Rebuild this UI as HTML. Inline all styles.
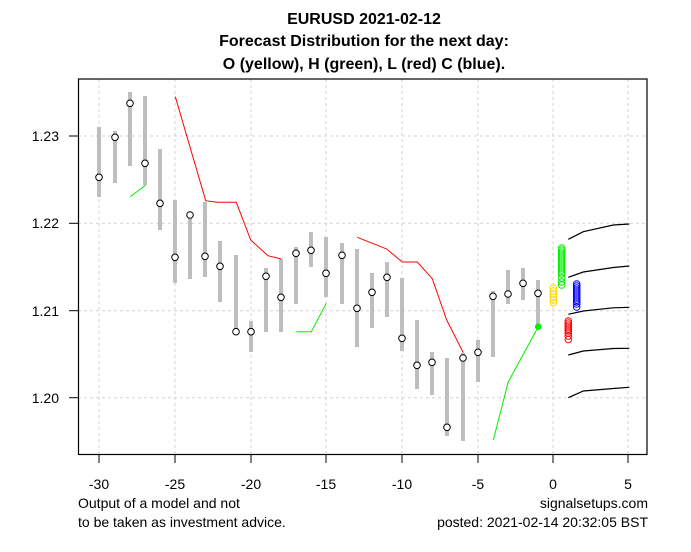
<!DOCTYPE html>
<html><head><meta charset="utf-8"><style>
html,body{margin:0;padding:0;background:#fff;}
svg{display:block;font-family:"Liberation Sans",Arial,sans-serif;}
</style></head><body>
<svg width="691" height="552" viewBox="0 0 691 552" xmlns="http://www.w3.org/2000/svg">
<g font-weight="bold" font-size="16" text-anchor="middle" fill="#000">
<text x="364" y="24">EURUSD 2021-02-12</text>
<text x="364" y="46">Forecast Distribution for the next day:</text>
<text x="364" y="69">O (yellow), H (green), L (red) C (blue).</text>
</g>
<g stroke="#d3d3d3" stroke-width="1" stroke-dasharray="3,3">
<line x1="99" y1="79" x2="99" y2="454"/><line x1="175" y1="79" x2="175" y2="454"/>
<line x1="251" y1="79" x2="251" y2="454"/><line x1="326" y1="79" x2="326" y2="454"/>
<line x1="402" y1="79" x2="402" y2="454"/><line x1="478" y1="79" x2="478" y2="454"/>
<line x1="553" y1="79" x2="553" y2="454"/><line x1="628" y1="79" x2="628" y2="454"/>
<line x1="78" y1="136" x2="647" y2="136"/><line x1="78" y1="223.3" x2="647" y2="223.3"/>
<line x1="78" y1="310.7" x2="647" y2="310.7"/><line x1="78" y1="397.7" x2="647" y2="397.7"/>
</g>
<g stroke="#bebebe" stroke-width="4">
<line x1="99" y1="127" x2="99" y2="197"/><line x1="115" y1="131" x2="115" y2="183"/>
<line x1="130" y1="92" x2="130" y2="166"/><line x1="145" y1="96" x2="145" y2="185"/>
<line x1="160" y1="149" x2="160" y2="230"/><line x1="175" y1="200" x2="175" y2="283"/>
<line x1="190" y1="215" x2="190" y2="279"/><line x1="205" y1="202" x2="205" y2="277"/>
<line x1="220" y1="241" x2="220" y2="302"/><line x1="236" y1="255" x2="236" y2="332"/>
<line x1="251" y1="321" x2="251" y2="352"/><line x1="266" y1="268" x2="266" y2="332"/>
<line x1="281" y1="259" x2="281" y2="332"/><line x1="296" y1="247" x2="296" y2="304"/>
<line x1="311" y1="232" x2="311" y2="267"/><line x1="326" y1="237" x2="326" y2="297"/>
<line x1="342" y1="243" x2="342" y2="304"/><line x1="357" y1="249" x2="357" y2="347"/>
<line x1="372" y1="273" x2="372" y2="328"/><line x1="387" y1="262" x2="387" y2="317"/>
<line x1="402" y1="278" x2="402" y2="351"/><line x1="417" y1="320" x2="417" y2="389"/>
<line x1="432" y1="352" x2="432" y2="395"/><line x1="447" y1="358" x2="447" y2="436"/>
<line x1="463" y1="353" x2="463" y2="441"/><line x1="478" y1="340" x2="478" y2="382"/>
<line x1="493" y1="291" x2="493" y2="357"/><line x1="508" y1="270" x2="508" y2="304"/>
<line x1="523" y1="268" x2="523" y2="300"/><line x1="538" y1="280" x2="538" y2="327"/>
</g>
<g fill="#fff" stroke="#000" stroke-width="1">
<circle cx="99" cy="177.3" r="3.3"/><circle cx="115" cy="137.3" r="3.3"/><circle cx="130" cy="103.3" r="3.3"/>
<circle cx="145" cy="163.3" r="3.3"/><circle cx="160" cy="203.3" r="3.3"/><circle cx="175" cy="257.3" r="3.3"/>
<circle cx="190" cy="215" r="3.3"/><circle cx="205" cy="256.3" r="3.3"/><circle cx="220" cy="266.3" r="3.3"/>
<circle cx="236" cy="331.7" r="3.3"/><circle cx="251" cy="331.7" r="3.3"/><circle cx="266" cy="276.3" r="3.3"/>
<circle cx="281" cy="297.3" r="3.3"/><circle cx="296" cy="253.3" r="3.3"/><circle cx="311" cy="250.3" r="3.3"/>
<circle cx="326" cy="273.3" r="3.3"/><circle cx="342" cy="255.3" r="3.3"/><circle cx="357" cy="308.3" r="3.3"/>
<circle cx="372" cy="292.3" r="3.3"/><circle cx="387" cy="277.3" r="3.3"/><circle cx="402" cy="338.3" r="3.3"/>
<circle cx="417" cy="365.3" r="3.3"/><circle cx="432" cy="362.3" r="3.3"/><circle cx="447" cy="427.3" r="3.3"/>
<circle cx="463" cy="358" r="3.3"/><circle cx="478" cy="352.3" r="3.3"/><circle cx="493" cy="296.3" r="3.3"/>
<circle cx="508" cy="294" r="3.3"/><circle cx="523" cy="283.3" r="3.3"/><circle cx="538" cy="293.3" r="3.3"/>
</g>
<g fill="none" stroke="#ff0000" stroke-width="1">
<polyline points="175.3,96.7 205.7,200.7 217.3,202.3 236.3,202.3 250.7,240 268,255.7 281.3,259"/>
<polyline points="357.3,237.3 386.7,249 402.3,262 417.3,262 432.3,278.7 446.7,320 463.3,352.7"/>
</g>
<g fill="none" stroke="#00ee00" stroke-width="1">
<polyline points="130.3,196.7 145.7,185"/>
<polyline points="296.3,331.7 311.3,331.7 326.3,303.3"/>
<polyline points="493.3,440 508.3,381.7 538.3,326.7"/>
</g>
<circle cx="538.3" cy="326.7" r="3.3" fill="#00ee00"/>
<g fill="none" stroke="#000" stroke-width="1.2">
<polyline points="568.3,239.3 583.3,231.7 613.3,225 629.3,224"/>
<polyline points="568.3,277.3 583.3,272 613.3,267.5 629.3,266"/>
<polyline points="568.3,314.3 583.3,311 613.3,307.8 629.3,307.3"/>
<polyline points="568.3,355 583.3,351 613.3,348.5 629.3,348.3"/>
<polyline points="568.3,397.7 583.3,391 613.3,388.5 629.3,387.3"/>
</g>
<g fill="none" stroke-width="1">
<g stroke="#ffd700">
<circle cx="553.3" cy="288" r="3.3"/><circle cx="553.3" cy="291" r="3.3"/><circle cx="553.3" cy="294" r="3.3"/><circle cx="553.3" cy="297" r="3.3"/><circle cx="553.3" cy="300" r="3.3"/><circle cx="553.3" cy="302.7" r="3.3"/>
</g>
<g stroke="#00ee00">
<circle cx="561.7" cy="248" r="3.3"/><circle cx="561.7" cy="250" r="3.3"/><circle cx="561.7" cy="252" r="3.3"/><circle cx="561.7" cy="254" r="3.3"/><circle cx="561.7" cy="256" r="3.3"/><circle cx="561.7" cy="258" r="3.3"/><circle cx="561.7" cy="260" r="3.3"/><circle cx="561.7" cy="262" r="3.3"/><circle cx="561.7" cy="264" r="3.3"/><circle cx="561.7" cy="266" r="3.3"/><circle cx="561.7" cy="268" r="3.3"/><circle cx="561.7" cy="270" r="3.3"/><circle cx="561.7" cy="272" r="3.3"/><circle cx="561.7" cy="274" r="3.3"/><circle cx="561.7" cy="278" r="3.3"/><circle cx="561.7" cy="282" r="3.3"/><circle cx="561.7" cy="285" r="3.3"/>
</g>
<g stroke="#0000ff">
<circle cx="576.7" cy="284" r="3.3"/><circle cx="576.7" cy="286" r="3.3"/><circle cx="576.7" cy="288" r="3.3"/><circle cx="576.7" cy="290" r="3.3"/><circle cx="576.7" cy="292" r="3.3"/><circle cx="576.7" cy="294" r="3.3"/><circle cx="576.7" cy="296" r="3.3"/><circle cx="576.7" cy="298" r="3.3"/><circle cx="576.7" cy="300" r="3.3"/><circle cx="576.7" cy="302" r="3.3"/><circle cx="576.7" cy="304" r="3.3"/><circle cx="576.7" cy="307" r="3.3"/>
</g>
<g stroke="#ff0000">
<circle cx="568.3" cy="321" r="3.3"/><circle cx="568.3" cy="323" r="3.3"/><circle cx="568.3" cy="325" r="3.3"/><circle cx="568.3" cy="327" r="3.3"/><circle cx="568.3" cy="329" r="3.3"/><circle cx="568.3" cy="331" r="3.3"/><circle cx="568.3" cy="333" r="3.3"/><circle cx="568.3" cy="336" r="3.3"/><circle cx="568.3" cy="339.5" r="3.3"/>
</g>
</g>
<rect x="78.5" y="79" width="568.5" height="375.5" fill="none" stroke="#000" stroke-width="1.2"/>
<g stroke="#000" stroke-width="1">
<line x1="99" y1="454" x2="99" y2="463"/><line x1="175" y1="454" x2="175" y2="463"/>
<line x1="251" y1="454" x2="251" y2="463"/><line x1="326" y1="454" x2="326" y2="463"/>
<line x1="402" y1="454" x2="402" y2="463"/><line x1="478" y1="454" x2="478" y2="463"/>
<line x1="553" y1="454" x2="553" y2="463"/><line x1="628" y1="454" x2="628" y2="463"/>
<line x1="69" y1="136" x2="78" y2="136"/><line x1="69" y1="223.3" x2="78" y2="223.3"/>
<line x1="69" y1="310.7" x2="78" y2="310.7"/><line x1="69" y1="397.7" x2="78" y2="397.7"/>
</g>
<g font-size="14" fill="#000" text-anchor="middle">
<text x="99" y="489">-30</text><text x="175" y="489">-25</text><text x="251" y="489">-20</text>
<text x="326" y="489">-15</text><text x="402" y="489">-10</text><text x="478" y="489">-5</text>
<text x="553" y="489">0</text><text x="628" y="489">5</text>
</g>
<g font-size="14" fill="#000" text-anchor="end">
<text x="59" y="141">1.23</text><text x="59" y="228">1.22</text>
<text x="59" y="316">1.21</text><text x="59" y="403">1.20</text>
</g>
<g font-size="14" fill="#000">
<text x="78" y="508">Output of a model and not</text>
<text x="78" y="527">to be taken as investment advice.</text>
<text x="648" y="508" text-anchor="end">signalsetups.com</text>
<text x="648" y="527" text-anchor="end">posted: 2021-02-14 20:32:05 BST</text>
</g>
</svg>
</body></html>
